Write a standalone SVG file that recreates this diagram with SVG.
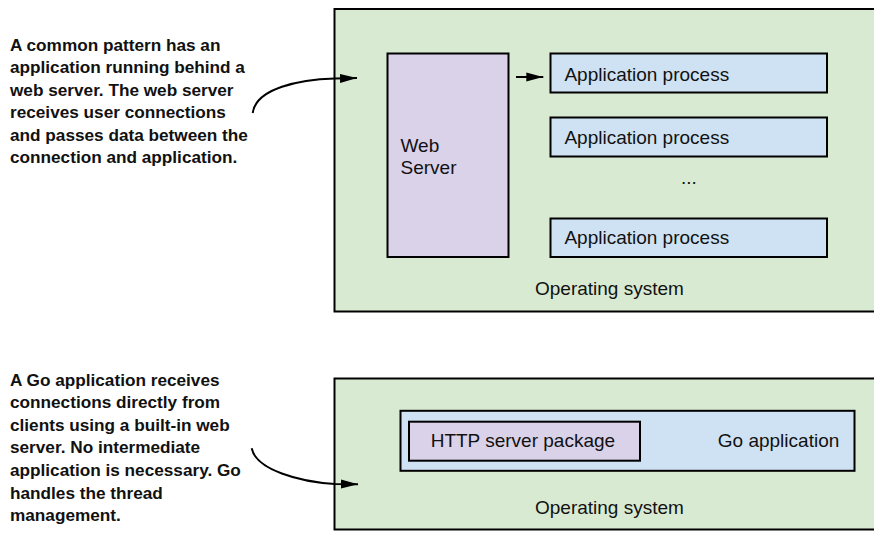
<svg xmlns="http://www.w3.org/2000/svg" width="874" height="540" viewBox="0 0 874 540">
  <style>
    .note { font-family: "Liberation Sans", Arial, sans-serif; font-weight: bold; font-size: 17.2px; fill: #111; }
    .lbl { font-family: "Liberation Sans", Arial, sans-serif; font-size: 19px; fill: #111; }
    .os { fill: #d9ead3; stroke: #000; stroke-width: 2; }
    .purple { fill: #d9d2e9; stroke: #000; stroke-width: 2; }
    .blue { fill: #cfe2f3; stroke: #000; stroke-width: 2; }
    .conn { fill: none; stroke: #000; stroke-width: 2; }
  </style>
  <defs>
    <marker id="arrow" markerUnits="userSpaceOnUse" markerWidth="17" markerHeight="10" refX="17" refY="5" orient="auto">
      <path d="M0,0.5 L17,5 L0,9.5 z" fill="#000"/>
    </marker>
  </defs>
  <rect width="874" height="540" fill="#fff"/>

  <g id="note-top">
    <text class="note" x="10" y="50.7">A common pattern has an</text>
    <text class="note" x="10" y="73.2">application running behind a</text>
    <text class="note" x="10" y="95.7">web server. The web server</text>
    <text class="note" x="10" y="118.2">receives user connections</text>
    <text class="note" x="10" y="140.7">and passes data between the</text>
    <text class="note" x="10" y="163.2">connection and application.</text>
  </g>

  <g id="note-bottom">
    <text class="note" x="10" y="385.7">A Go application receives</text>
    <text class="note" x="10" y="408.3">connections directly from</text>
    <text class="note" x="10" y="430.9">clients using a built-in web</text>
    <text class="note" x="10" y="453.4">server. No intermediate</text>
    <text class="note" x="10" y="476">application is necessary. Go</text>
    <text class="note" x="10" y="498.5">handles the thread</text>
    <text class="note" x="10" y="521">management.</text>
  </g>

  <g id="os-top">
    <rect class="os" x="334.5" y="9" width="560" height="302.5"/>
    <text class="lbl" x="535" y="295">Operating system</text>
  </g>
  <g id="web-server">
    <rect class="purple" x="387.5" y="53.5" width="121" height="203.5"/>
    <text class="lbl" x="400.5" y="151.7">Web</text>
    <text class="lbl" x="400.5" y="174">Server</text>
  </g>
  <g id="app-process-1">
    <rect class="blue" x="550.5" y="53.5" width="276.5" height="39"/>
    <text class="lbl" x="564.4" y="80.7">Application process</text>
  </g>
  <g id="app-process-2">
    <rect class="blue" x="550.5" y="117.5" width="276.5" height="39"/>
    <text class="lbl" x="564.4" y="144.3">Application process</text>
  </g>
  <g id="ellipsis">
    <text class="lbl" x="681" y="184">...</text>
  </g>
  <g id="app-process-3">
    <rect class="blue" x="550.5" y="218.5" width="276.5" height="38.5"/>
    <text class="lbl" x="564.4" y="244">Application process</text>
  </g>

  <g id="os-bottom">
    <rect class="os" x="334.5" y="378.5" width="560" height="151"/>
    <text class="lbl" x="535" y="514">Operating system</text>
  </g>
  <g id="go-application">
    <rect class="blue" x="400.5" y="410.8" width="454" height="60"/>
    <text class="lbl" x="717.8" y="446.7">Go application</text>
  </g>
  <g id="http-server-package">
    <rect class="purple" x="409" y="421.7" width="231" height="39"/>
    <text class="lbl" x="430.7" y="446.7">HTTP server package</text>
  </g>

  <g id="connectors">
    <path class="conn" d="M252.7,113 C256,88 300,79.5 335,78.5 L357,78" marker-end="url(#arrow)"/>
    <path class="conn" d="M516,77 L543.3,77" marker-end="url(#arrow)"/>
    <path class="conn" d="M251.7,448.3 C256,470 300,482 335,484 L358,484.3" marker-end="url(#arrow)"/>
  </g>
</svg>
